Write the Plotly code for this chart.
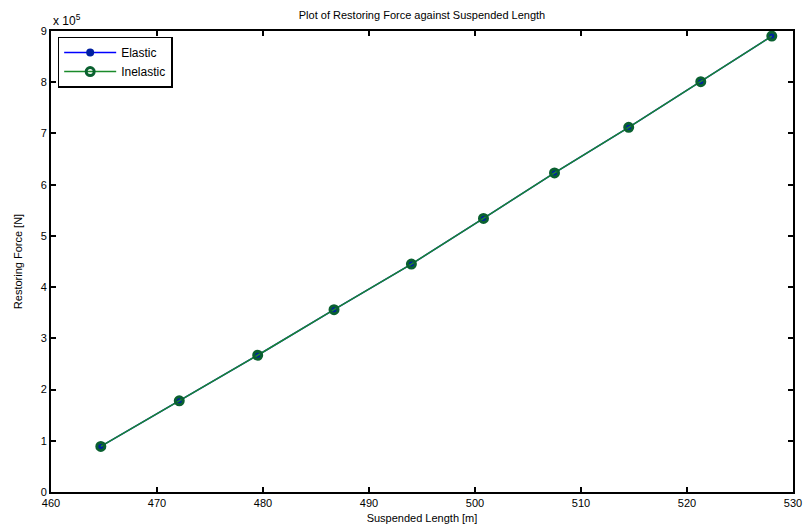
import plotly.graph_objects as go

length_m = [464.7, 472.1, 479.5, 486.7, 494.0, 500.8, 507.5, 514.5, 521.3, 528.0]
force_e5 = [0.89, 1.78, 2.67, 3.56, 4.45, 5.34, 6.23, 7.12, 8.01, 8.90]
force_elastic = [v * 1e5 for v in force_e5]
force_inelastic = [v * 1e5 for v in force_e5]

x_ticks = [460, 470, 480, 490, 500, 510, 520, 530]
y_ticks = [0, 1, 2, 3, 4, 5, 6, 7, 8, 9]

fig = go.Figure()
fig.add_trace(go.Scatter(
    x=length_m, y=force_elastic, name="Elastic", mode="lines+markers",
    line=dict(color="#0000ff", width=1.5),
    marker=dict(symbol="circle", size=8, color="#0020a0"),
))
fig.add_trace(go.Scatter(
    x=length_m, y=force_inelastic, name="Inelastic", mode="lines+markers",
    line=dict(color="#1a8a2a", width=1.5),
    marker=dict(symbol="circle-open", size=8, color="#0a6030", line=dict(width=3)),
))

font = dict(family="Liberation Sans, Arial, sans-serif", size=11, color="#000")
fig.update_layout(
    width=807, height=531,
    margin=dict(l=51, r=14, t=31, b=39),
    paper_bgcolor="white", plot_bgcolor="white",
    font=font,
    title=dict(text="Plot of Restoring Force against Suspended Length",
               x=0.5, xanchor="center", xref="paper", y=1 - 15 / 531, yanchor="middle",
               font=dict(size=11)),
    legend=dict(x=0.009, y=0.988, xanchor="left", yanchor="top",
                bordercolor="#000", borderwidth=1.5, bgcolor="white",
                font=dict(size=12), itemwidth=52, tracegroupgap=0),
    showlegend=True,
)
fig.update_xaxes(
    range=[460, 530], tickvals=x_ticks, ticktext=[str(t) for t in x_ticks],
    ticks="inside", ticklen=5, tickwidth=1.5, tickcolor="#000",
    showline=True, linecolor="#000", linewidth=2, mirror="ticks",
    showgrid=False, zeroline=False, automargin=False,
    title=dict(text="Suspended Length [m]", standoff=6, font=dict(size=11)),
)
fig.update_yaxes(
    range=[0, 9e5], tickvals=[t * 1e5 for t in y_ticks], ticktext=[str(t) for t in y_ticks],
    ticks="inside", ticklen=5, tickwidth=1.5, tickcolor="#000",
    showline=True, linecolor="#000", linewidth=2, mirror="ticks",
    showgrid=False, zeroline=False, automargin=False,
    title=dict(text="Restoring Force [N]", standoff=16, font=dict(size=11)),
)
fig.add_annotation(
    text="x 10<sup>5</sup>", xref="paper", yref="paper", x=0.0, y=1.0,
    xanchor="left", yanchor="bottom", showarrow=False, font=dict(size=12), yshift=1,
)
fig.write_html("out.html")
